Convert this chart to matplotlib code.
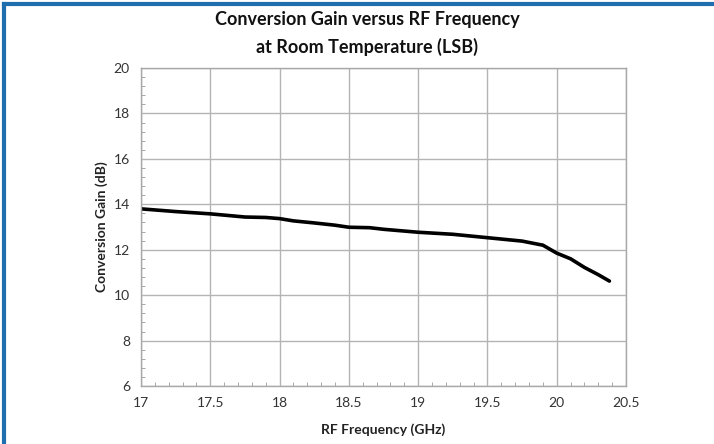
import matplotlib.pyplot as plt
from matplotlib.lines import Line2D
from matplotlib.ticker import MultipleLocator

freq_ghz = [17.0, 17.25, 17.5, 17.75, 17.9, 18.0, 18.1, 18.25, 18.4, 18.5, 18.65, 18.75,
            19.0, 19.25, 19.5, 19.75, 19.9, 20.0, 20.1, 20.2, 20.3, 20.38]
gain_db = [13.8, 13.68, 13.58, 13.44, 13.42, 13.37, 13.27, 13.18, 13.08, 12.99, 12.97, 12.9,
           12.77, 12.68, 12.53, 12.38, 12.2, 11.85, 11.6, 11.22, 10.9, 10.62]
x_ticks = [17, 17.5, 18, 18.5, 19, 19.5, 20, 20.5]
y_ticks = [6, 8, 10, 12, 14, 16, 18, 20]

plt.rcParams["font.family"] = ["Lato", "DejaVu Sans"]

fig = plt.figure(figsize=(7.14, 4.44), dpi=100)
ax = fig.add_axes([0.1975, 0.1306, 0.6793, 0.7162])

ax.plot(freq_ghz, gain_db, color="black", lw=2.6, solid_capstyle="round")

ax.set_xlim(17, 20.5)
ax.set_ylim(6, 20)
ax.set_xticks(x_ticks)
ax.set_xticklabels([f"{v:g}" for v in x_ticks])
ax.set_yticks(y_ticks)
ax.xaxis.set_minor_locator(MultipleLocator(0.1))
ax.yaxis.set_minor_locator(MultipleLocator(0.4))
ax.grid(True, which="major", color="#b4b4b4", lw=1.0)
ax.tick_params(which="both", direction="in", colors="#9a9a9a", labelcolor="#333333",
               labelsize=10, length=0, pad=8)
ax.tick_params(which="minor", length=3)
for s in ax.spines.values():
    s.set_color("#a8a8a8")
    s.set_linewidth(1.0)

ax.set_xlabel("RF Frequency (GHz)", fontsize=10, fontweight="bold", color="#222222", labelpad=10)
ax.set_ylabel("Conversion Gain (dB)", fontsize=10, fontweight="bold", color="#222222", labelpad=4)

fig.text(367 / 714, 1 - 20 / 444, "Conversion Gain versus RF Frequency", ha="center", va="center",
         fontsize=13, fontweight="bold", color="#111111")
fig.text(367 / 714, 1 - 47 / 444, "at Room Temperature (LSB)", ha="center", va="center",
         fontsize=13, fontweight="bold", color="#111111")

# blue frame on left and top
blue = "#1f6fae"
fig.add_artist(Line2D([4 / 714, 4 / 714], [0, 1 - 4 / 444], transform=fig.transFigure, color=blue, lw=3))
fig.add_artist(Line2D([4 / 714, 1], [1 - 4 / 444, 1 - 4 / 444], transform=fig.transFigure, color=blue, lw=3))

fig.savefig("out.png", dpi=100)
